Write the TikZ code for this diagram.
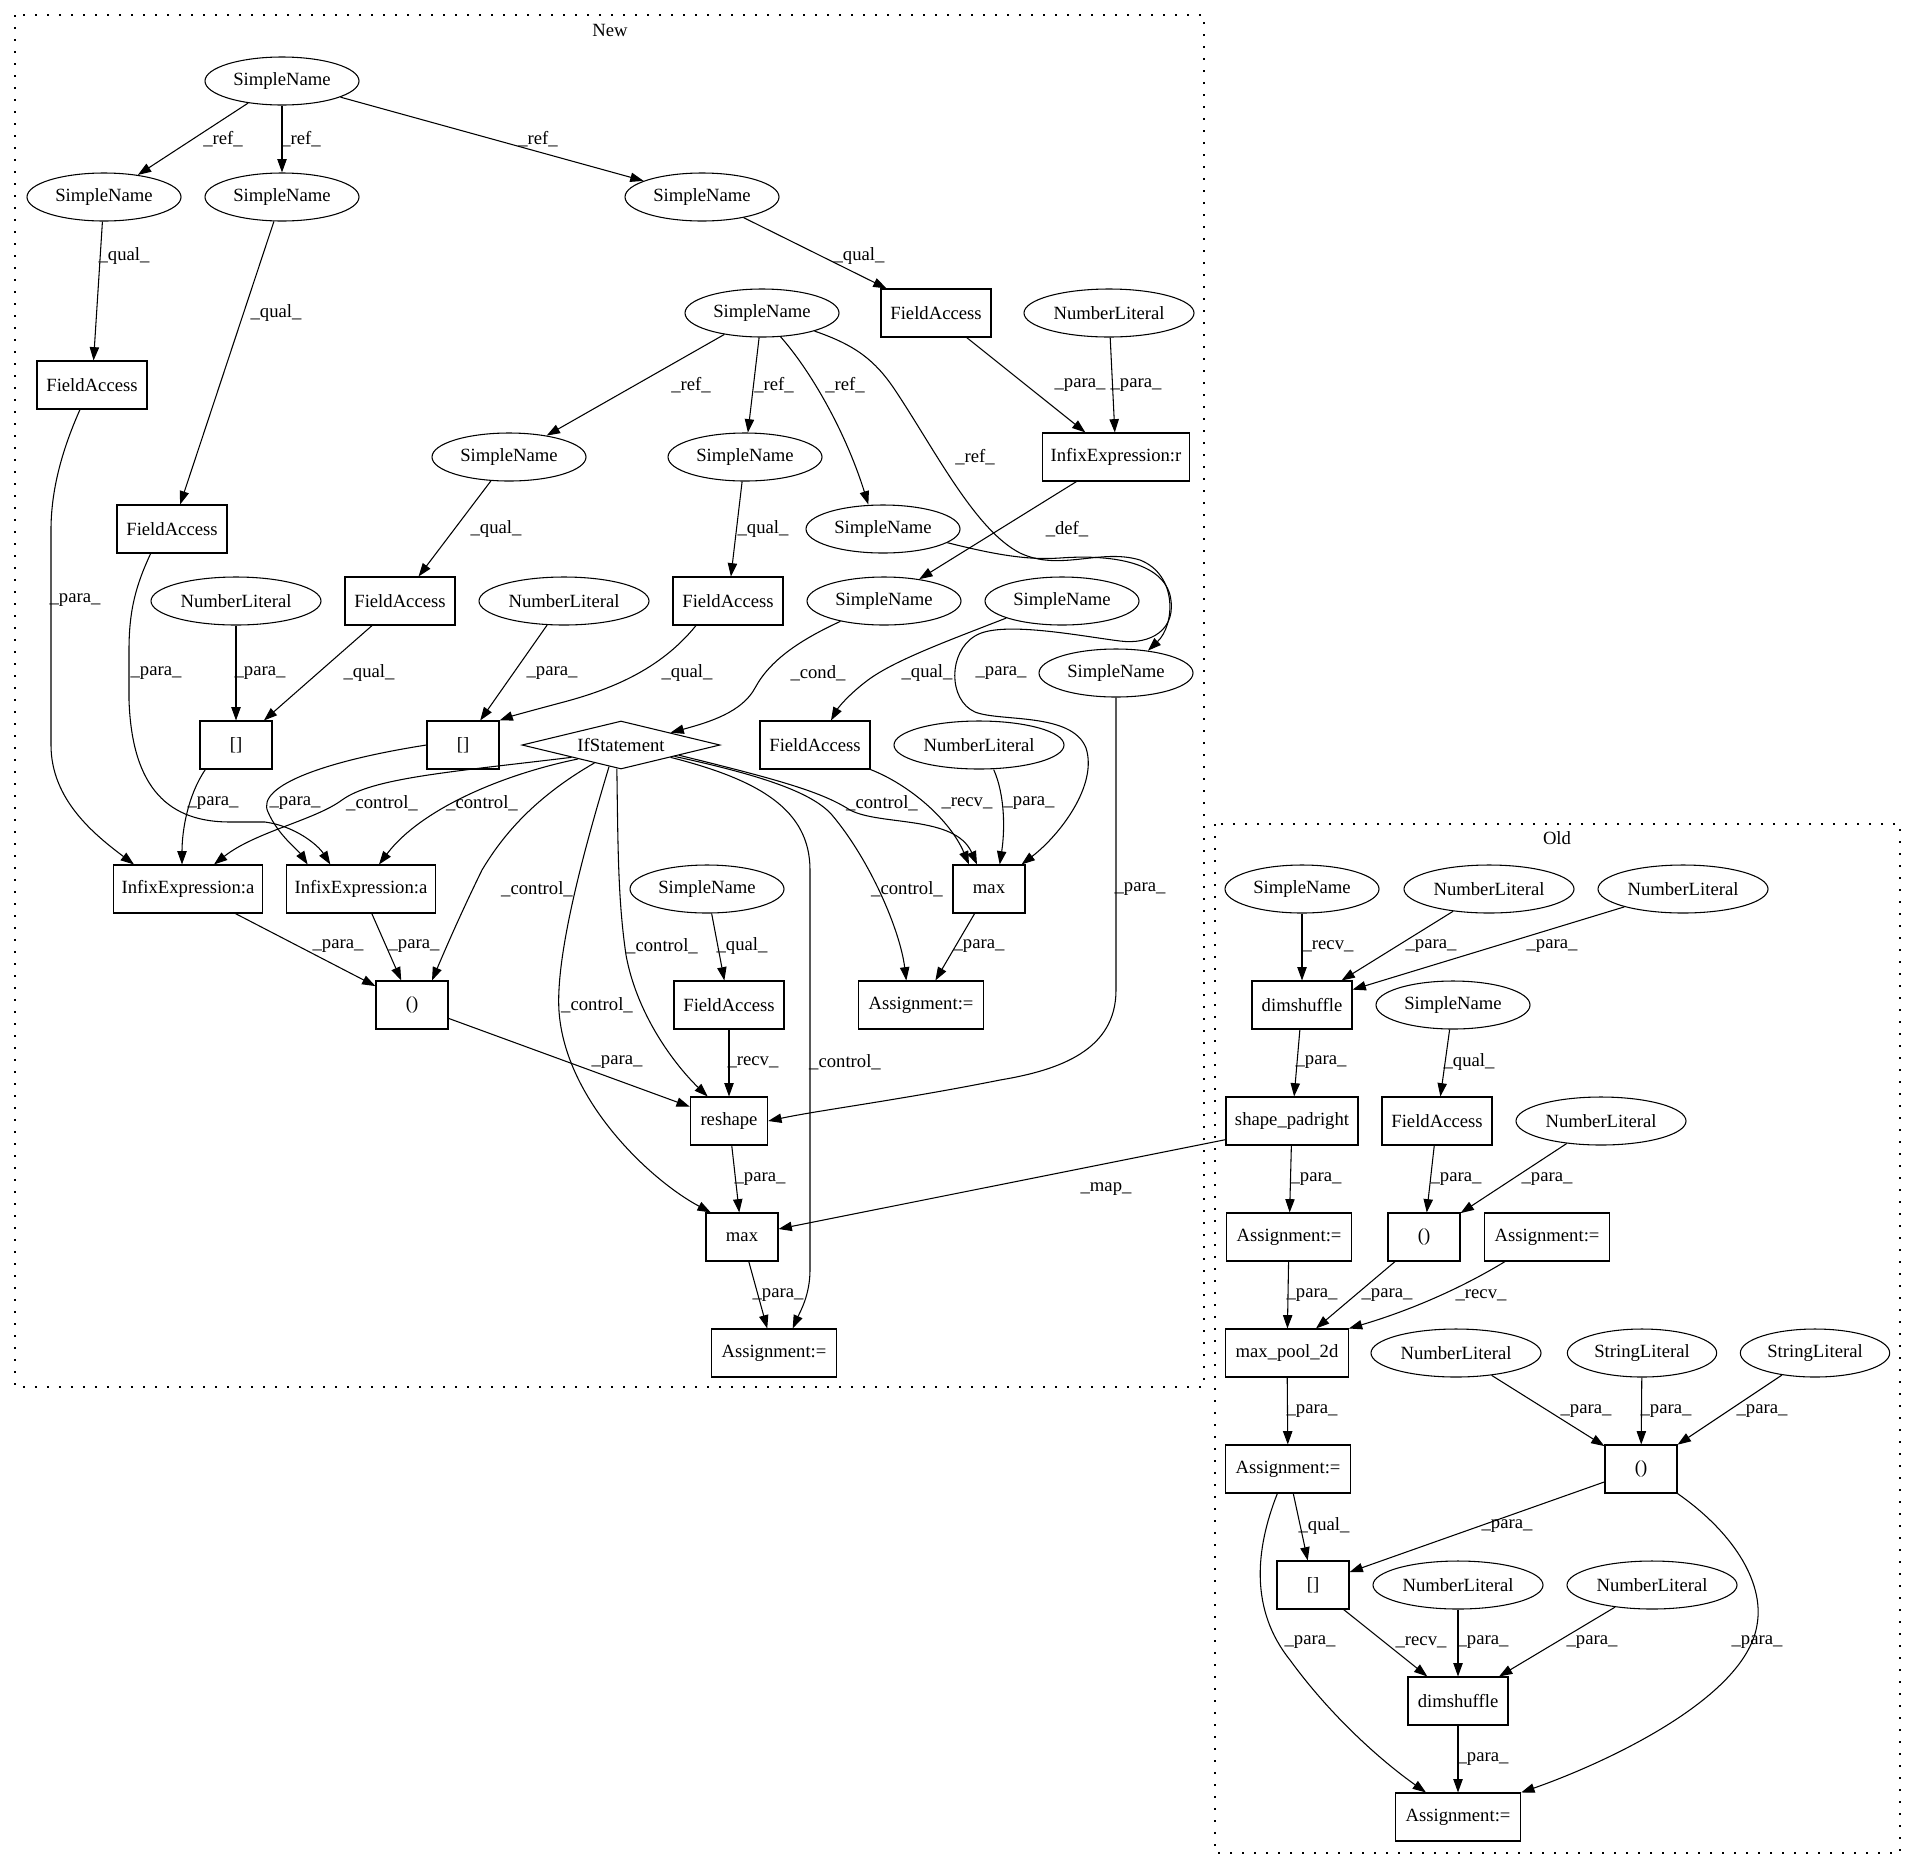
\documentclass[tikz,border=0pt]{standalone}
\usepackage{fontspec}
\setmainfont{Liberation Serif}
\usetikzlibrary{shapes.geometric, arrows.meta}
\begin{document}
\begin{tikzpicture}[x=0.75pt, y=-0.75pt,
  base/.style={font=\fontsize{14}{16}\selectfont, line width=0.8pt},
  sn/.style={base, ellipse, draw, minimum width=115.5pt, minimum height=36pt, inner sep=0pt},
  nl/.style={base, ellipse, draw, minimum width=127.5pt, minimum height=36pt, inner sep=0pt},
  sl/.style={base, ellipse, draw, minimum width=112pt, minimum height=36pt, inner sep=0pt},
  bx/.style={base, rectangle, draw, minimum height=36pt, inner sep=0pt},
  arr/.style={line width=0.8pt, -{Triangle[length=10pt,width=7pt]}},
  lbl/.style={font=\fontsize{14}{16}\selectfont, inner sep=0pt},
  clus/.style={draw, line width=0.8pt, dash pattern=on 1.2pt off 7.8pt}]
\useasboundingbox (0,0) rectangle (1916,1868);
\fill[white] (0,0) rectangle (1916,1868);
% clusters
\draw[clus] (15,15) rectangle (1204,1387);
\node[lbl] (NewL) at (610,30) {New};
\draw[clus] (1215,824) rectangle (1900,1853);
\node[lbl] (OldL) at (1557,838) {Old};
% ---------- New nodes
\node[sn] (SNtop) at (282,81) {SimpleName};
\node[sn] (SNa) at (104,197) {SimpleName};
\node[sn] (SNb) at (282,197) {SimpleName};
\node[sn] (SNc) at (702,197) {SimpleName};
\node[sn] (SNmid) at (762,313) {SimpleName};
\node[bx, minimum width=82.5pt] (FAc) at (936,313) {FieldAccess};
\node[nl] (NLr) at (1109,313) {NumberLiteral};
\node[bx, minimum width=82.5pt] (FAa) at (92,385) {FieldAccess};
\node[sn] (SNd) at (509,457) {SimpleName};
\node[sn] (SNe) at (745,457) {SimpleName};
\node[bx, minimum width=110pt] (IXr) at (1116,457) {InfixExpression:r};
\node[bx, minimum width=82.5pt] (FAb) at (172,529) {FieldAccess};
\node[sn] (SNf) at (883,529) {SimpleName};
\node[nl] (NL1) at (236,601) {NumberLiteral};
\node[bx, minimum width=82.5pt] (FAd) at (400,601) {FieldAccess};
\node[nl] (NL2) at (564,601) {NumberLiteral};
\node[bx, minimum width=82.5pt] (FAe) at (728,601) {FieldAccess};
\node[sn] (SNg) at (884,601) {SimpleName};
\node[sn] (SNh) at (1062,601) {SimpleName};
\node[sn] (SNi) at (1116,673) {SimpleName};
\node[bx, minimum width=54pt] (Br1) at (236,745) {[]};
\node[bx, minimum width=54pt] (Br2) at (463,745) {[]};
\node[base, diamond, draw, shape aspect=4.1, inner sep=0pt, minimum width=148.5pt, minimum height=36pt] (IfS) at (621,745) {IfStatement};
\node[bx, minimum width=82.5pt] (FAf) at (815,745) {FieldAccess};
\node[nl] (NL3) at (979,745) {NumberLiteral};
\node[bx, minimum width=112pt] (IXa1) at (188,889) {InfixExpression:a};
\node[bx, minimum width=112pt] (IXa2) at (361,889) {InfixExpression:a};
\node[sn] (SNj) at (707,889) {SimpleName};
\node[bx, minimum width=54pt] (Mx1) at (989,889) {max};
\node[bx, minimum width=54pt] (P1) at (412,1005) {()};
\node[bx, minimum width=82.5pt] (FAg) at (729,1005) {FieldAccess};
\node[bx, minimum width=94pt] (As1) at (921,1005) {Assignment:=};
\node[bx, minimum width=58pt] (Rsh) at (729,1121) {reshape};
\node[bx, minimum width=54pt] (Mx2) at (742,1237) {max};
\node[bx, minimum width=94pt] (As2) at (774,1353) {Assignment:=};
% ---------- Old nodes
\node[sn] (OSN1) at (1302,889) {SimpleName};
\node[nl] (ONL1) at (1489,889) {NumberLiteral};
\node[nl] (ONL2) at (1683,889) {NumberLiteral};
\node[bx, minimum width=75pt] (ODs1) at (1302,1005) {dimshuffle};
\node[sn] (OSN2) at (1453,1005) {SimpleName};
\node[bx, minimum width=99pt] (OSpr) at (1292,1121) {shape\_padright};
\node[bx, minimum width=82.5pt] (OFA) at (1437,1121) {FieldAccess};
\node[nl] (ONL3) at (1601,1121) {NumberLiteral};
\node[bx, minimum width=94pt] (OAs1) at (1289,1237) {Assignment:=};
\node[bx, minimum width=54pt] (OP1) at (1424,1237) {()};
\node[bx, minimum width=94pt] (OAs2) at (1547,1237) {Assignment:=};
\node[bx, minimum width=92pt] (OMp) at (1287,1353) {max\_pool\_2d};
\node[nl] (ONL4) at (1456,1353) {NumberLiteral};
\node[sl] (OSL1) at (1642,1353) {StringLiteral};
\node[sl] (OSL2) at (1815,1353) {StringLiteral};
\node[bx, minimum width=94pt] (OAs3) at (1288,1469) {Assignment:=};
\node[bx, minimum width=54pt] (OP2) at (1641,1469) {()};
\node[bx, minimum width=54pt] (OBr) at (1313,1585) {[]};
\node[nl] (ONL5) at (1458,1585) {NumberLiteral};
\node[nl] (ONL6) at (1652,1585) {NumberLiteral};
\node[bx, minimum width=75pt] (ODs2) at (1458,1701) {dimshuffle};
\node[bx, minimum width=94pt] (OAs4) at (1458,1817) {Assignment:=};
% ---------- New edges
\draw[arr] (SNtop) -- (SNa);
\draw[arr] (SNtop) -- (SNb);
\draw[arr] (SNtop) -- (SNc);
\draw[arr] (SNa) -- (FAa);
\draw[arr] (SNb) -- (FAb);
\draw[arr] (SNc) -- (FAc);
\draw[arr] (FAc) -- (IXr);
\draw[arr] (NLr) -- (IXr);
\draw[arr] (SNmid) -- (SNd);
\draw[arr] (SNmid) -- (SNe);
\draw[arr] (SNmid.-52) .. controls (810,370) and (845,430) .. ([xshift=-11pt]SNf.north);
\draw[arr] (SNmid.-19) .. controls (855,345) and (875,360) .. (895,390) .. controls (935,450) and (975,530) .. (1020,553) .. controls (1060,572) and (1100,548) .. (1140,560) .. controls (1178,575) and (1175,625) .. (SNi.35);
\draw[arr] (SNf.-12) .. controls (1000,556) and (1030,560) .. (1060,558) .. controls (1100,555) and (1160,558) .. (1170,595) .. controls (1178,630) and (1150,645) .. (1120,641) .. controls (1080,636) and (1000,620) .. (975,636) .. controls (948,652) and (948,700) .. (975,712) .. controls (1000,722) and (1072,712) .. (1086,748) .. controls (1098,785) and (1060,835) .. ([xshift=-3pt]Mx1.north east);
\draw[arr] (IXr) -- (SNg);
\draw[arr] (SNd) -- (FAd);
\draw[arr] (SNe) -- (FAe);
\draw[arr] (SNh.197) .. controls (950,640) and (895,660) .. (868,680) .. controls (848,695) and (838,708) .. ([xshift=12pt]FAf.north);
\draw[arr] (SNg.205) .. controls (800,640) and (770,660) .. (755,688) .. controls (742,712) and (710,722) .. (IfS.14);
\draw[arr] (FAd) -- (Br1);
\draw[arr] (NL1) -- (Br1);
\draw[arr] (NL2) -- (Br2);
\draw[arr] ([xshift=-24pt]FAe.south) .. controls (660,670) and (610,690) .. (560,703) .. controls (530,711) and (512,716) .. (Br2.north east);
\draw[arr] ([xshift=-9pt]FAa.south) .. controls (62,450) and (51,490) .. (51,530) -- (51,745) .. controls (51,800) and (95,835) .. ([xshift=-40.5pt]IXa1.north);
\draw[arr] ([xshift=-16pt]FAb.south) .. controls (136,585) and (129,610) .. (129,650) -- (129,700) .. controls (132,790) and (170,822) .. (230,822) -- (265,822) .. controls (295,826) and (318,845) .. ([xshift=-23pt]IXa2.north);
\draw[arr] ([xshift=-23pt]Br1.south) .. controls (188,795) and (182,830) .. ([xshift=-4.5pt]IXa1.north);
\draw[arr] (Br2.west) .. controls (330,760) and (255,785) .. (268,812) .. controls (278,835) and (298,850) .. ([xshift=-40pt]IXa2.north);
\draw[arr] (IfS.194) .. controls (450,772) and (372,778) .. (342,800) .. controls (315,820) and (255,832) .. ([xshift=19.5pt]IXa1.north);
\draw[arr] (IfS.198) .. controls (500,775) and (420,810) .. ([xshift=13.5pt]IXa2.north);
\draw[arr] (IfS.214) .. controls (530,800) and (500,840) .. (482,870) .. controls (460,915) and (445,950) .. ([xshift=15pt]P1.north);
\draw[arr] (IfS.241) .. controls (590,830) and (555,950) .. (559,1011) .. controls (565,1100) and (650,1180) .. ([xshift=4pt]Mx2.north west);
\draw[arr] (IfS.260) .. controls (618,850) and (618,900) .. (626,955) .. controls (638,1020) and (680,1070) .. ([xshift=-16pt]Rsh.north);
\draw[arr] (IfS.-14) .. controls (760,780) and (810,810) .. (810,870) -- (810,1270) .. controls (810,1295) and (800,1312) .. ([xshift=14pt]As2.north);
\draw[arr] (IfS.-12) .. controls (760,775) and (812,792) .. (832,815) .. controls (870,860) and (900,930) .. ([xshift=-11pt]As1.north);
\draw[arr] (IfS.-10) .. controls (780,780) and (822,792) .. (850,810) .. controls (880,826) and (955,815) .. ([xshift=-9pt]Mx1.north);
\draw[arr] (FAf.south east) .. controls (910,785) and (950,820) .. ([xshift=-15pt]Mx1.north);
\draw[arr] ([xshift=11pt]NL3.south) .. controls (1005,795) and (1005,830) .. ([xshift=8pt]Mx1.north);
\draw[arr] (IXa1) -- (P1);
\draw[arr] (IXa2) -- (P1);
\draw[arr] (Mx1) -- (As1);
\draw[arr] (SNj) -- (FAg);
\draw[arr] (FAg) -- (Rsh);
\draw[arr] (P1) -- (Rsh);
\draw[arr] (SNi.south) -- (1116,990) .. controls (1116,1050) and (1060,1070) .. (1000,1080) .. controls (900,1100) and (820,1110) .. (Rsh.east);
\draw[arr] (Rsh) -- (Mx2);
\draw[arr] (Mx2) -- (As2);
\draw[arr] ([yshift=-14pt]OSpr.west) -- ([yshift=6pt]Mx2.east);
% ---------- Old edges
\draw[arr] (OSN1) -- (ODs1);
\draw[arr] (ONL1) -- (ODs1);
\draw[arr] (ONL2) -- (ODs1);
\draw[arr] (ODs1) -- (OSpr);
\draw[arr] (OSN2) -- (OFA);
\draw[arr] (OSpr) -- (OAs1);
\draw[arr] (OFA) -- (OP1);
\draw[arr] (ONL3) -- (OP1);
\draw[arr] (OAs1) -- (OMp);
\draw[arr] (OP1) -- (OMp);
\draw[arr] ([xshift=-31.5pt]OAs2.south) .. controls (1450,1295) and (1395,1315) .. (OMp.north east);
\draw[arr] (OMp) -- (OAs3);
\draw[arr] (ONL4) -- (OP2);
\draw[arr] (OSL1) -- (OP2);
\draw[arr] (OSL2) -- (OP2);
\draw[arr] (OAs3) -- (OBr);
\draw[arr] (OP2) -- (OBr);
\draw[arr] ([xshift=-8pt]OAs3.south) .. controls (1255,1550) and (1250,1610) .. (1290,1660) .. controls (1330,1715) and (1380,1760) .. ([xshift=-24pt]OAs4.north);
\draw[arr] (OP2.south east) .. controls (1730,1530) and (1765,1580) .. (1757,1625) .. controls (1745,1700) and (1600,1765) .. (OAs4.north east);
\draw[arr] (OBr) -- (ODs2);
\draw[arr] (ONL5) -- (ODs2);
\draw[arr] (ONL6) -- (ODs2);
\draw[arr] (ODs2) -- (OAs4);
% ---------- New labels
\node[lbl] (l1) at (223,139) {\_ref\_};
\node[lbl] (l2) at (301,139) {\_ref\_};
\node[lbl] (l3) at (538,139) {\_ref\_};
\node[lbl] (l4) at (124,256) {\_qual\_};
\node[lbl] (l5) at (859,256) {\_qual\_};
\node[lbl] (l6) at (276,313) {\_qual\_};
\node[lbl] (l7) at (691,385) {\_ref\_};
\node[lbl] (l8) at (774,385) {\_ref\_};
\node[lbl] (l9) at (845,385) {\_ref\_};
\node[lbl] (l10) at (1080,385) {\_para\_};
\node[lbl] (l11) at (1136,385) {\_para\_};
\node[lbl] (l12) at (975,457) {\_ref\_};
\node[lbl] (l13) at (496,529) {\_qual\_};
\node[lbl] (l14) at (763,529) {\_qual\_};
\node[lbl] (l15) at (1067,529) {\_def\_};
\node[lbl] (l16) at (75,600) {\_para\_};
\node[lbl] (l17) at (156,673) {\_para\_};
\node[lbl] (l18) at (260,673) {\_para\_};
\node[lbl] (l19) at (369,673) {\_qual\_};
\node[lbl] (l20) at (552,673) {\_para\_};
\node[lbl] (l21) at (687,673) {\_qual\_};
\node[lbl] (l22) at (818,673) {\_cond\_};
\node[lbl] (l23) at (927,673) {\_qual\_};
\node[lbl] (l24) at (1001,673) {\_para\_};
\node[lbl] (l25) at (213,803) {\_para\_};
\node[lbl] (l26) at (295,803) {\_para\_};
\node[lbl] (l27) at (382,803) {\_control\_};
\node[lbl] (l28) at (482,803) {\_control\_};
\node[lbl] (l29) at (882,803) {\_control\_};
\node[lbl] (l30) at (967,803) {\_recv\_};
\node[lbl] (l31) at (1029,803) {\_para\_};
\node[lbl] (l32) at (537,889) {\_control\_};
\node[lbl] (l33) at (907,889) {\_control\_};
\node[lbl] (l34) at (1140,889) {\_para\_};
\node[lbl] (l35) at (338,946) {\_para\_};
\node[lbl] (l36) at (414,946) {\_para\_};
\node[lbl] (l37) at (662,946) {\_control\_};
\node[lbl] (l38) at (742,946) {\_qual\_};
\node[lbl] (l39) at (979,946) {\_para\_};
\node[lbl] (l40) at (597,1005) {\_control\_};
\node[lbl] (l41) at (617,1062) {\_para\_};
\node[lbl] (l42) at (753,1062) {\_recv\_};
\node[lbl] (l43) at (845,1062) {\_control\_};
\node[lbl] (l44) at (760,1179) {\_para\_};
\node[lbl] (l45) at (1106,1189) {\_map\_};
\node[lbl] (l46) at (778,1295) {\_para\_};
% ---------- Old labels
\node[lbl] (m1) at (1328,946) {\_recv\_};
\node[lbl] (m2) at (1431,946) {\_para\_};
\node[lbl] (m3) at (1552,946) {\_para\_};
\node[lbl] (m4) at (1321,1062) {\_para\_};
\node[lbl] (m5) at (1469,1062) {\_qual\_};
\node[lbl] (m6) at (1316,1179) {\_para\_};
\node[lbl] (m7) at (1456,1179) {\_para\_};
\node[lbl] (m8) at (1547,1179) {\_para\_};
\node[lbl] (m9) at (1312,1295) {\_para\_};
\node[lbl] (m10) at (1387,1295) {\_para\_};
\node[lbl] (m11) at (1481,1295) {\_recv\_};
\node[lbl] (m12) at (1312,1411) {\_para\_};
\node[lbl] (m13) at (1586,1411) {\_para\_};
\node[lbl] (m14) at (1666,1411) {\_para\_};
\node[lbl] (m15) at (1762,1411) {\_para\_};
\node[lbl] (m16) at (1324,1526) {\_qual\_};
\node[lbl] (m17) at (1507,1526) {\_para\_};
\node[lbl] (m18) at (1310,1642) {\_para\_};
\node[lbl] (m19) at (1421,1642) {\_recv\_};
\node[lbl] (m20) at (1483,1642) {\_para\_};
\node[lbl] (m21) at (1592,1642) {\_para\_};
\node[lbl] (m22) at (1757,1642) {\_para\_};
\node[lbl] (m23) at (1483,1759) {\_para\_};
\end{tikzpicture}
\end{document}
